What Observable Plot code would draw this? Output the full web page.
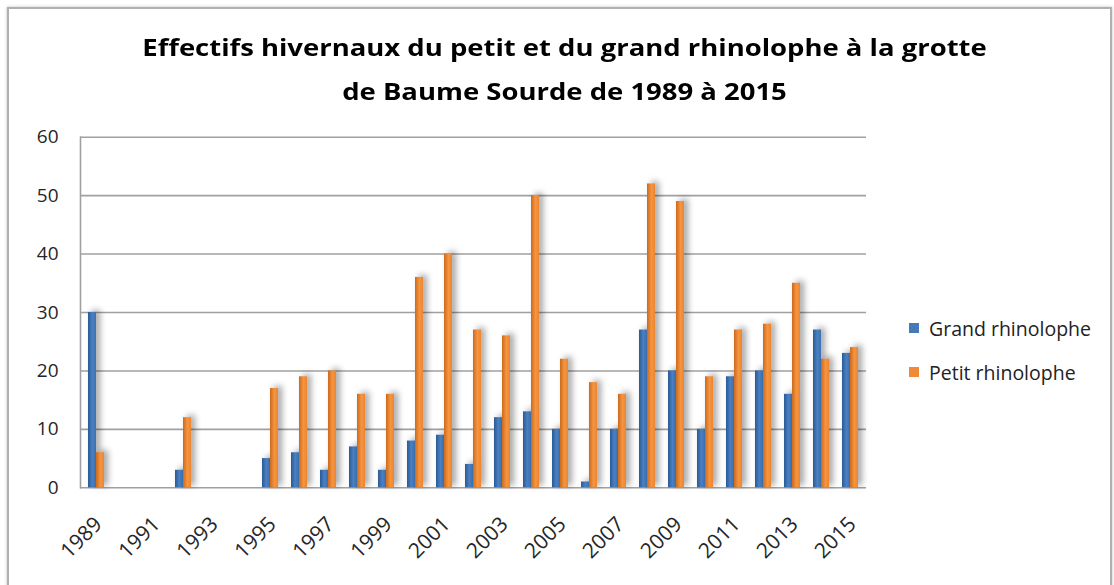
<!DOCTYPE html>
<html><head><meta charset="utf-8">
<script src="https://cdn.jsdelivr.net/npm/d3@7"></script>
<script src="https://cdn.jsdelivr.net/npm/@observablehq/plot@0.6"></script>
<style>
body{margin:0;background:#fff;font-family:"Open Sans",Lato,sans-serif;}
#wrap{position:relative;width:1114px;height:585px;overflow:hidden;background:#fff;}
#border{position:absolute;left:7px;top:7px;width:1101px;height:640px;border:2px solid #b0b0b0;box-shadow:0 0 3px rgba(0,0,0,0.25);}
#title{position:absolute;top:25px;left:0;width:1129px;text-align:center;font-weight:bold;font-size:24px;line-height:44px;color:#000;transform:scaleX(1.144);transform-origin:50% 50%;}
#chart{position:absolute;left:0;top:110px;}
#legend{position:absolute;left:909px;top:306px;font-size:19.5px;color:#222;}
.li{display:flex;align-items:center;height:44px;}
.sw{width:10px;height:10px;margin-right:10px;}
</style></head>
<body>
<div id="wrap">
  <div id="border"></div>
  <div id="title">Effectifs hivernaux du petit et du grand rhinolophe à la grotte<br>de Baume Sourde de 1989 à 2015</div>
  <div id="chart"></div>
  <div id="legend"></div>
</div>
<script>
const years = [1989,1990,1991,1992,1993,1994,1995,1996,1997,1998,1999,2000,2001,2002,2003,2004,2005,2006,2007,2008,2009,2010,2011,2012,2013,2014,2015];
const grand = [30,null,null,3,null,null,5,6,3,7,3,8,9,4,12,13,10,1,10,27,20,10,19,20,16,27,23];
const petit = [6,null,null,12,null,null,17,19,20,16,16,36,40,27,26,50,22,18,16,52,49,19,27,28,35,22,24];
const tickYears = [1989,1991,1993,1995,1997,1999,2001,2003,2005,2007,2009,2011,2013,2015];
const yTicks = [0,10,20,30,40,50,60];
const seriesNames = ["Grand rhinolophe","Petit rhinolophe"];
const seriesColors = ["#4579b8","#f08a34"];

const rows = years.map((y,i)=>({year:String(y), grand:grand[i], petit:petit[i]}));

const plot = Plot.plot({
  width:1114, height:475,
  marginLeft:80, marginRight:248, marginTop:26.7, marginBottom:97.7,
  style:{fontFamily:"'Open Sans', Lato, sans-serif", fontSize:"19px", color:"#262626", background:"transparent", overflow:"visible"},
  x:{type:"band", domain:years.map(String), paddingInner:0.45, paddingOuter:0.225},
  y:{domain:[0,60]},
  marks:[
    Plot.ruleY(yTicks, {stroke:"#a0a0a0", strokeWidth:1.6}),
    Plot.frame({anchor:"left", stroke:"#a0a0a0", strokeWidth:1.6}),
    Plot.barY(rows.filter(d=>d.grand!=null), {x:"year", y:"grand", fill:"url(#gradBlue)", insetRight:8}),
    Plot.barY(rows.filter(d=>d.petit!=null), {x:"year", y:"petit", fill:"url(#gradOrange)", insetLeft:8}),
    Plot.axisY({ticks:yTicks, tickSize:0, tickPadding:22, label:null}),
    Plot.axisX({ticks:tickYears.map(String), tickSize:0, tickPadding:33, tickRotate:-45, label:null, fontSize:21, dx:2})
  ]
});
const svg = plot.tagName.toLowerCase()==="svg" ? plot : plot.querySelector("svg");
const ns = "http://www.w3.org/2000/svg";
const defs = document.createElementNS(ns,"defs");
defs.innerHTML = `
<linearGradient id="gradBlue" x1="0" x2="1" y1="0" y2="0">
 <stop offset="0" stop-color="#2b5a94"/><stop offset="0.55" stop-color="#4a80c3"/><stop offset="1" stop-color="#3c70b0"/>
</linearGradient>
<linearGradient id="gradOrange" x1="0" x2="1" y1="0" y2="0">
 <stop offset="0" stop-color="#c96a1e"/><stop offset="0.55" stop-color="#f7953f"/><stop offset="1" stop-color="#eb8531"/>
</linearGradient>`;
svg.prepend(defs);
svg.querySelectorAll('g[aria-label="bar"]').forEach(g=>{
  g.style.filter = "drop-shadow(4px -2px 3px rgba(0,0,0,0.35))";
});
document.getElementById("chart").append(plot);

const legend = document.getElementById("legend");
seriesNames.forEach((n,i)=>{
  const d = document.createElement("div"); d.className="li";
  const s = document.createElement("span"); s.className="sw"; s.style.background=seriesColors[i];
  const t = document.createElement("span"); t.textContent=n;
  d.append(s,t); legend.append(d);
});
</script>
</body></html>
